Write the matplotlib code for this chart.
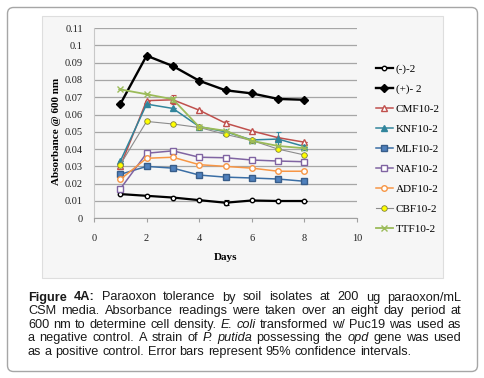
import matplotlib.pyplot as plt
from matplotlib.patches import FancyBboxPatch, Rectangle

days = [1, 2, 3, 4, 5, 6, 7, 8]

neg = [0.014, 0.013, 0.012, 0.0105, 0.009, 0.0103, 0.010, 0.010]
pos = [0.066, 0.094, 0.088, 0.0795, 0.074, 0.0722, 0.069, 0.0685]
cmf = [0.030, 0.068, 0.0685, 0.0625, 0.055, 0.0505, 0.0466, 0.044]
knf = [0.033, 0.066, 0.0635, 0.053, 0.050, 0.0453, 0.0458, 0.0415]
mlf = [0.0254, 0.030, 0.029, 0.025, 0.0238, 0.0233, 0.0227, 0.0214]
naf = [0.017, 0.0376, 0.039, 0.0353, 0.035, 0.0337, 0.0331, 0.0327]
adf = [0.0225, 0.0347, 0.0353, 0.031, 0.030, 0.029, 0.0272, 0.0272]
cbf = [0.031, 0.056, 0.0545, 0.0525, 0.0485, 0.045, 0.040, 0.0366]
ttf = [0.0745, 0.0717, 0.0688, 0.0528, 0.0506, 0.0448, 0.0418, 0.0405]

# 95% CI error bars (only the visible ones)
neg_err = [0, 0, 0, 0, 0.0015, 0, 0, 0]
pos_err = [0, 0.001, 0.001, 0.0015, 0, 0, 0.0012, 0]
cmf_err = [0, 0, 0.0025, 0, 0.0015, 0, 0, 0]
knf_err = [0, 0, 0, 0, 0, 0, 0.004, 0]
ttf_err = [0, 0, 0.0015, 0, 0, 0, 0, 0]
zero_err = [0, 0, 0, 0, 0, 0, 0, 0]

labels = ["(-)-2", "(+)- 2", "CMF10-2", "KNF10-2", "MLF10-2",
          "NAF10-2", "ADF10-2", "CBF10-2", "TTF10-2"]
xticks = [0, 2, 4, 6, 8, 10]
yticks = [0, 0.01, 0.02, 0.03, 0.04, 0.05, 0.06, 0.07, 0.08, 0.09, 0.1, 0.11]
ytick_labels = ["0", "0.01", "0.02", "0.03", "0.04", "0.05", "0.06",
                "0.07", "0.08", "0.09", "0.1", "0.11"]

W, H = 485, 378
fig = plt.figure(figsize=(W / 100, H / 100), dpi=100)

# background layer in pixel coordinates
bg = fig.add_axes([0, 0, 1, 1], zorder=-1)
bg.set_xlim(0, W)
bg.set_ylim(H, 0)
bg.axis("off")
bg.add_patch(FancyBboxPatch((7.5, 7.5), 470, 364, boxstyle="round,pad=0,rounding_size=6",
                            fc="white", ec="#a6a6a6", lw=1.0))
bg.add_patch(Rectangle((42, 16), 401, 262, fc="#f6f6f6", ec="#dedede", lw=0.8))

serif = "Liberation Serif"

ax = fig.add_axes([94 / W, 1 - 218.3 / H, (357 - 94) / W, (218.3 - 28) / H])
ax.set_facecolor("none")
ax.set_xlim(0, 10)
ax.set_ylim(0, 0.11)
ax.set_yticks(yticks)
ax.set_yticklabels(ytick_labels)
ax.set_xticks(xticks)
for s in ["top", "right"]:
    ax.spines[s].set_visible(False)
ax.spines["left"].set_color("#c8c8c8")
ax.spines["bottom"].set_color("#a0a0a0")
ax.grid(axis="y", color="#a6a6a6", lw=0.9)
ax.set_axisbelow(True)
ax.tick_params(axis="y", length=0, pad=8, labelsize=7.5, labelcolor="#222222")
ax.tick_params(axis="x", length=3, pad=8, labelsize=7.5, color="#a0a0a0", labelcolor="#222222")
for t in ax.get_xticklabels() + ax.get_yticklabels():
    t.set_fontfamily(serif)

series = [
    (neg, neg_err, dict(color="black", lw=1.6, marker="o", ms=3.2, mfc="white", mec="black", mew=1.0)),
    (pos, pos_err, dict(color="black", lw=1.7, marker="D", ms=3.6, mfc="black", mec="black")),
    (cmf, cmf_err, dict(color="#c0504d", lw=1.1, marker="^", ms=4.2, mfc="white", mec="#c0504d", mew=1.0)),
    (knf, knf_err, dict(color="#31859c", lw=1.1, marker="^", ms=4.2, mfc="#31859c", mec="#31859c")),
    (mlf, zero_err, dict(color="#3a6ea5", lw=1.1, marker="s", ms=4.2, mfc="#4f81bd", mec="#385d8a")),
    (naf, zero_err, dict(color="#8064a2", lw=1.1, marker="s", ms=4.2, mfc="white", mec="#8064a2", mew=1.0)),
    (adf, zero_err, dict(color="#f79646", lw=1.1, marker="o", ms=4.0, mfc="white", mec="#f79646", mew=1.0)),
    (cbf, zero_err, dict(color="#8c8c8c", lw=0.8, marker="o", ms=4.0, mfc="#ffff00", mec="#7f7f3f", mew=0.6)),
    (ttf, ttf_err, dict(color="#9bbb59", lw=1.3, marker="x", ms=4.0, mec="#9bbb59", mew=1.0)),
]

handles = []
for (vals, err, st), lab in zip(series, labels):
    ax.errorbar(days, vals, yerr=err, fmt="none", ecolor=st["color"], elinewidth=0.8,
                capsize=1.8, capthick=0.8)
    h, = ax.plot(days, vals, label=lab, **st)
    handles.append(h)

fig.legend(handles=handles, loc="upper left", bbox_to_anchor=(376 / W, 1 - 64 / H),
           frameon=False, prop={"family": serif, "size": 8}, labelspacing=0.92,
           handlelength=1.5, handletextpad=0.3, borderpad=0, borderaxespad=0)

bg.text(226, 258, "Days", ha="center", va="center", fontfamily=serif,
        fontweight="bold", fontsize=8)
bg.text(57, 131, "Absorbance @ 600 nm", ha="center", va="center", rotation=90,
        fontfamily=serif, fontweight="bold", fontsize=8)

# caption, justified like the journal layout
cap_lines = [
    [("Figure", "bold"), ("4A:", "bold"), ("Paraoxon", ""), ("tolerance", ""), ("by", ""),
     ("soil", ""), ("isolates", ""), ("at", ""), ("200", ""), ("ug", ""), ("paraoxon/mL", "")],
    [(w, "") for w in "CSM media. Absorbance readings were taken over an eight day period at".split()],
    [(w, "") for w in "600 nm to determine cell density.".split()] + [("E.", "italic"), ("coli", "italic")]
    + [(w, "") for w in "transformed w/ Puc19 was used as".split()],
    [(w, "") for w in "a negative control. A strain of".split()] + [("P.", "italic"), ("putida", "italic")]
    + [("possessing", ""), ("the", ""), ("opd", "italic")]
    + [(w, "") for w in "gene was used".split()],
    [(w, "") for w in "as a positive control. Error bars represent 95% confidence intervals.".split()],
]

renderer = fig.canvas.get_renderer()
x0, x1 = 28, 461
base = 300.5
cap_size = 9.2
for i, line in enumerate(cap_lines):
    texts = []
    for word, style in line:
        kw = dict(fontfamily="Liberation Sans", fontsize=cap_size, color="#1a1a1a",
                  va="baseline", ha="left")
        if style == "bold":
            kw["fontweight"] = "bold"
        if style == "italic":
            kw["fontstyle"] = "italic"
        texts.append(bg.text(0, base + i * 13.6, word, **kw))
    widths = [t.get_window_extent(renderer).width for t in texts]
    if i < len(cap_lines) - 1:
        gap = (x1 - x0 - sum(widths)) / (len(texts) - 1)
    else:
        gap = cap_size * 100 / 72 * 0.278
    x = x0
    for t, w in zip(texts, widths):
        t.set_x(x)
        x += w + gap

fig.savefig("out.png", dpi=100)
